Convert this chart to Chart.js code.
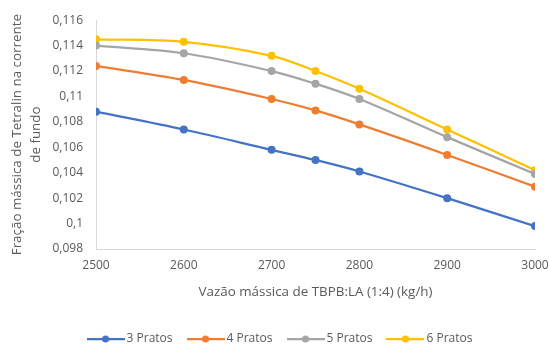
<!DOCTYPE html>
<html>
<head>
<meta charset="utf-8">
<script src="https://cdn.jsdelivr.net/npm/chart.js@4"></script>
<style>
  html, body { margin: 0; padding: 0; background: #ffffff; }
  #wrap { width: 549px; height: 344px; position: relative; }
</style>
</head>
<body>
<div id="wrap"><canvas id="c"></canvas></div>
<script>
// ---- data ----
const flowRates = [2500, 2600, 2700, 2750, 2800, 2900, 3000];
const pratos3 = [0.1088, 0.1074, 0.1058, 0.1050, 0.1041, 0.1020, 0.0998];
const pratos4 = [0.1124, 0.1113, 0.1098, 0.1089, 0.1078, 0.1054, 0.1029];
const pratos5 = [0.1140, 0.1134, 0.1120, 0.1110, 0.1098, 0.1068, 0.1039];
const pratos6 = [0.1145, 0.1143, 0.1132, 0.1120, 0.1106, 0.1074, 0.1042];
const seriesNames = ['3 Pratos', '4 Pratos', '5 Pratos', '6 Pratos'];
const seriesColors = ['#4472C4', '#ED7D31', '#A5A5A5', '#FFC000'];
const xTickLabels = ['2500', '2600', '2700', '2800', '2900', '3000'];
const yTickLabels = ['0,098', '0,1', '0,102', '0,104', '0,106', '0,108', '0,11', '0,112', '0,114', '0,116'];
const xTitle = 'Vazão mássica de TBPB:LA (1:4) (kg/h)';
const yTitle = ['Fração mássica de Tetralin na corrente', 'de fundo'];

Chart.defaults.font.family = "'Open Sans', 'Liberation Sans', sans-serif";
Chart.defaults.font.size = 12;
Chart.defaults.color = '#595959';

function legendIcon(color) {
  const cv = document.createElement('canvas');
  cv.width = 38; cv.height = 10;
  const g = cv.getContext('2d');
  g.strokeStyle = color; g.lineWidth = 2.25;
  g.beginPath(); g.moveTo(0, 5); g.lineTo(38, 5); g.stroke();
  g.fillStyle = color;
  g.beginPath(); g.arc(19, 5, 3.6, 0, Math.PI * 2); g.fill();
  return cv;
}

const allSeries = [pratos3, pratos4, pratos5, pratos6];
const datasets = allSeries.map((vals, i) => ({
  label: seriesNames[i],
  data: vals.map((v, j) => ({ x: flowRates[j], y: v })),
  borderColor: seriesColors[i],
  backgroundColor: seriesColors[i],
  borderWidth: 2.25,
  pointRadius: 4,
  pointBorderWidth: 0,
  pointHoverRadius: 4,
  tension: 0.35,
  fill: false,
  legendIcon: legendIcon(seriesColors[i])
}));

new Chart(document.getElementById('c'), {
  type: 'line',
  data: { datasets },
  options: {
    responsive: true,
    maintainAspectRatio: false,
    animation: false,
    devicePixelRatio: 1,
    layout: { padding: { top: 18, right: 0, bottom: -11, left: 14 } },
    plugins: {
      tooltip: { enabled: false },
      legend: {
        position: 'bottom',
        labels: {
          usePointStyle: true,
          pointStyleWidth: 30,
          padding: 18,
          color: '#595959',
          font: { size: 12 },
          generateLabels(chart) {
            return chart.data.datasets.map((ds, i) => ({
              text: ds.label,
              fillStyle: ds.borderColor,
              strokeStyle: ds.borderColor,
              lineWidth: 0,
              pointStyle: ds.legendIcon,
              hidden: false,
              datasetIndex: i,
              fontColor: '#595959'
            }));
          }
        }
      }
    },
    scales: {
      x: {
        type: 'linear',
        min: 2500,
        max: 3000,
        grid: { display: false, drawTicks: false },
        border: { display: true, color: '#D9D9D9', width: 1 },
        ticks: {
          stepSize: 100,
          padding: 9,
          maxRotation: 0,
          color: '#595959',
          callback: (v, i) => xTickLabels[i]
        },
        title: {
          display: true,
          text: xTitle,
          color: '#595959',
          font: { size: 13.4 },
          padding: { top: 4, bottom: 15 }
        },
        afterFit(scale) { scale.height = 66; scale.paddingRight = 14; }
      },
      y: {
        min: 0.098,
        max: 0.116,
        grid: { display: false, drawTicks: false },
        border: { display: true, color: '#D9D9D9', width: 1 },
        ticks: {
          stepSize: 0.002,
          padding: 13,
          color: '#595959',
          callback: (v, i) => yTickLabels[i]
        },
        title: {
          display: true,
          text: yTitle,
          color: '#595959',
          font: { size: 13.4, lineHeight: 1.42 },
          padding: { top: -6, bottom: 0 }
        },
        afterFit(scale) { scale.width = 82; }
      }
    }
  }
});
</script>
</body>
</html>
